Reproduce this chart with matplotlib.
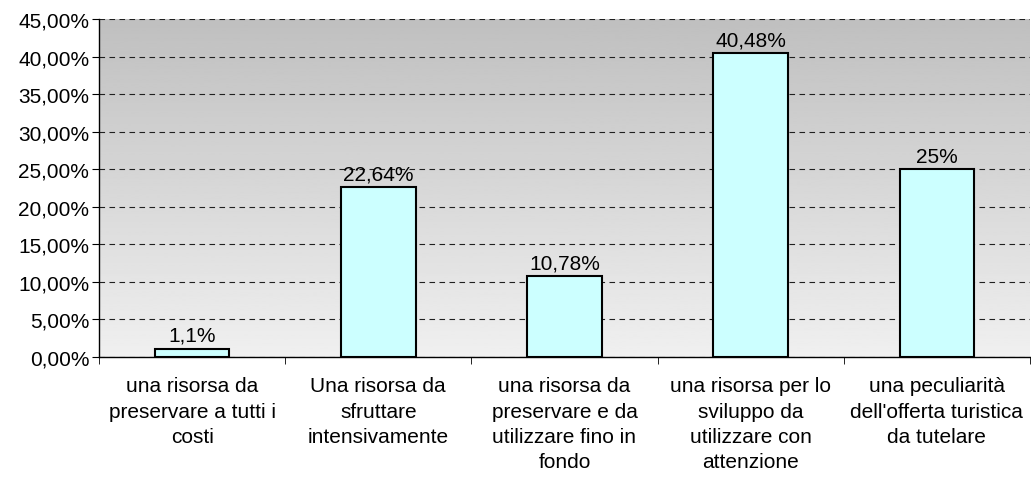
import numpy as np
import matplotlib.pyplot as plt

plt.rcParams['font.family'] = ['Liberation Sans', 'DejaVu Sans']

# dati
categorie = ["una risorsa da\npreservare a tutti i\ncosti",
             "Una risorsa da\nsfruttare\nintensivamente",
             "una risorsa da\npreservare e da\nutilizzare fino in\nfondo",
             "una risorsa per lo\nsviluppo da\nutilizzare con\nattenzione",
             "una peculiarità\ndell'offerta turistica\nda tutelare"]
valori = [1.1, 22.64, 10.78, 40.48, 25.0]
etichette = ["1,1%", "22,64%", "10,78%", "40,48%", "25%"]
yticks = [0, 5, 10, 15, 20, 25, 30, 35, 40, 45]

fig = plt.figure(figsize=(10.31, 4.81), dpi=100)
ax = fig.add_axes([0.096, 0.256, 0.903, 0.702])

# sfondo sfumato (scuro in alto, chiaro in basso)
grad = np.linspace(0.75, 0.94, 256).reshape(-1, 1)
ax.imshow(grad, cmap='gray', vmin=0, vmax=1, aspect='auto',
          extent=[0, 1, 0, 1], transform=ax.transAxes, zorder=0)

x = np.arange(len(valori))
ax.bar(x, valori, width=0.4, color='#CCFFFF', edgecolor='black',
       linewidth=1.5, zorder=3)
for xi, v, s in zip(x, valori, etichette):
    ax.text(xi, v + 0.5, s, ha='center', va='bottom', fontsize=15, zorder=4)

ax.set_xlim(-0.5, len(valori) - 0.5)
ax.set_ylim(0, 45)
ax.set_yticks(yticks)
ax.set_yticklabels(["%d,00%%" % t for t in yticks], fontsize=15)
ax.yaxis.grid(True, linestyle=(0, (5, 4)), color='#202020', linewidth=0.8, zorder=1)
ax.set_axisbelow(True)

ax.set_xticks(x)
ax.set_xticklabels(categorie, fontsize=15, linespacing=1.42)
ax.set_xticks(np.arange(-0.5, len(valori)), minor=True)
ax.tick_params(axis='x', which='major', length=0, pad=14)
ax.tick_params(axis='x', which='minor', length=5, direction='out')
ax.tick_params(axis='y', length=5, direction='out', pad=2)

for s in ['top', 'right']:
    ax.spines[s].set_visible(False)
ax.spines['left'].set_linewidth(1.0)
ax.spines['bottom'].set_linewidth(1.0)

fig.savefig('out.png', dpi=100)
